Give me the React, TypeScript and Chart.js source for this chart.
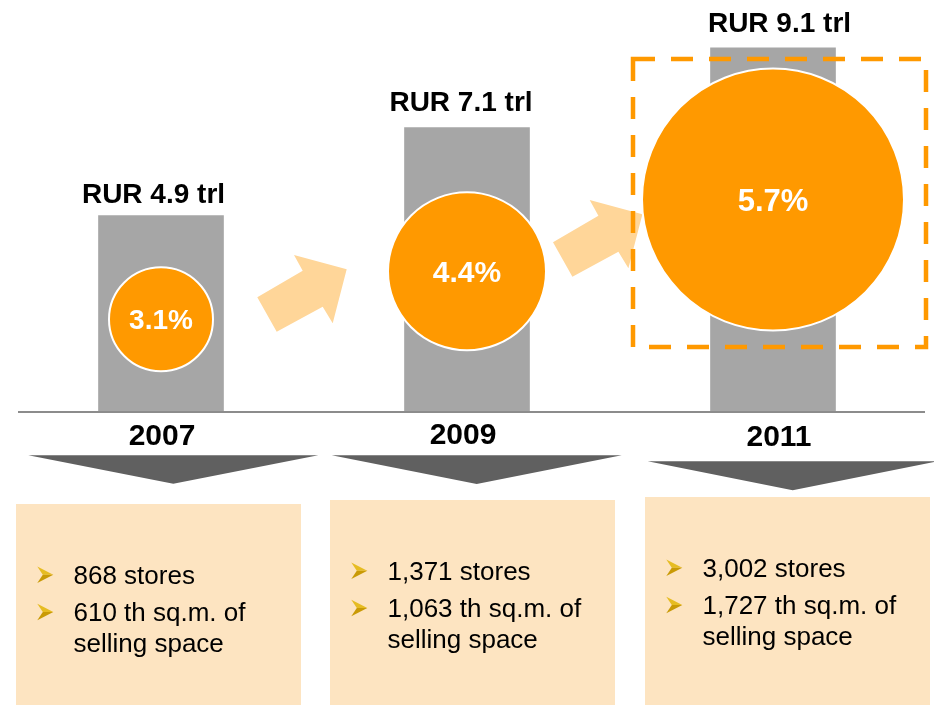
import { useEffect, useRef } from 'react';
import { Chart, registerables } from 'chart.js';

Chart.register(...registerables);

// ---- data ----
const years = ['2007', '2009', '2011'];
const marketSizeTrl = [4.9, 7.1, 9.1];
const sharePct = [3.1, 4.4, 5.7];
const bubbleRadius = [52, 79, 131];
const bubbleLevel = [2.3, 3.5, 5.3];
const storeCount = [868, 1371, 3002];
const sellingSpaceTh = [610, 1063, 1727];

const ORANGE = '#FF9900';
const FONT = '"Liberation Sans", Arial, Helvetica, sans-serif';

const decor = {
  rurDx: [-7.5, -6, 6.5],
  rurBaseline: [-12, -17, -15.5],
  pctFont: [28, 30, 31],
  yearDx: [1, -4, 6],
  yearBaseline: [34, 32.7, 35],
  triApexDx: [12.3, 9.7, 19.7],
  triTop: [44.3, 44.3, 50.3],
  triDepth: [28.4, 28.7, 29],
  triHalf: 145,
  boxLeftDx: [-145, -137, -128],
  boxTop: [93, 89, 86],
  boxW: 285,
  arrowAnchors: [
    [257.3, 297.3],
    [553, 242.3],
  ],
  arrowShape: [
    [0, 0],
    [19.4, 34.4],
    [65.4, 9.4],
    [75.4, 26],
    [89.4, -28],
    [36.7, -42.3],
    [45.4, -26.6],
  ],
  focus: { left: -140, right: 153, top: -140.5, bottom: 147.5 },
};

function fmt(n: number) {
  return n.toLocaleString('en-US');
}

function drawBullet(ctx: CanvasRenderingContext2D, x: number, yc: number) {
  const w = 16;
  const h = 16.6;
  ctx.beginPath();
  ctx.moveTo(x + w, yc);
  ctx.lineTo(x, yc - h / 2);
  ctx.lineTo(x + 5.5, yc);
  ctx.closePath();
  ctx.fillStyle = '#E6BC22';
  ctx.fill();
  ctx.beginPath();
  ctx.moveTo(x + w, yc);
  ctx.lineTo(x, yc + h / 2);
  ctx.lineTo(x + 5.5, yc);
  ctx.closePath();
  ctx.fillStyle = '#C99A06';
  ctx.fill();
}

const infographic = {
  id: 'infographic',
  beforeDatasetsDraw(chart: any) {
    const ctx: CanvasRenderingContext2D = chart.ctx;
    ctx.save();
    ctx.fillStyle = '#FFD699';
    decor.arrowAnchors.forEach(([ax, ay]) => {
      ctx.beginPath();
      decor.arrowShape.forEach(([dx, dy], k) => {
        if (k === 0) ctx.moveTo(ax + dx, ay + dy);
        else ctx.lineTo(ax + dx, ay + dy);
      });
      ctx.closePath();
      ctx.fill();
    });
    ctx.restore();
  },
  afterDatasetsDraw(chart: any) {
    const ctx: CanvasRenderingContext2D = chart.ctx;
    const area = chart.chartArea;
    const bubbles = chart.getDatasetMeta(0).data;
    const bars = chart.getDatasetMeta(1).data;
    const axisY = area.bottom;
    ctx.save();

    // baseline
    ctx.strokeStyle = '#8C8C8C';
    ctx.lineWidth = 2;
    ctx.beginPath();
    ctx.moveTo(18, axisY + 1);
    ctx.lineTo(925, axisY + 1);
    ctx.stroke();

    // value labels above bars
    ctx.fillStyle = '#000';
    ctx.textAlign = 'center';
    ctx.textBaseline = 'alphabetic';
    ctx.font = `bold 28px ${FONT}`;
    bars.forEach((b: any, i: number) => {
      ctx.fillText(`RUR ${marketSizeTrl[i].toFixed(1)} trl`, b.x + decor.rurDx[i], b.y + decor.rurBaseline[i]);
    });

    // percent labels inside bubbles
    ctx.fillStyle = '#FFFFFF';
    bubbles.forEach((p: any, i: number) => {
      const fs = decor.pctFont[i];
      ctx.font = `bold ${fs}px ${FONT}`;
      ctx.fillText(`${sharePct[i].toFixed(1)}%`, p.x, p.y + fs * 0.358);
    });

    // focus dashed box around last bubble
    const last = bubbles[bubbles.length - 1];
    ctx.strokeStyle = ORANGE;
    ctx.lineWidth = 4.5;
    ctx.setLineDash([22, 16]);
    ctx.strokeRect(
      last.x + decor.focus.left,
      last.y + decor.focus.top,
      decor.focus.right - decor.focus.left,
      decor.focus.bottom - decor.focus.top
    );
    ctx.setLineDash([]);

    // year labels
    ctx.fillStyle = '#000';
    ctx.font = `bold 30px ${FONT}`;
    bars.forEach((b: any, i: number) => {
      ctx.fillText(years[i], b.x + decor.yearDx[i], axisY + decor.yearBaseline[i]);
    });

    // triangles
    ctx.fillStyle = '#606060';
    bars.forEach((b: any, i: number) => {
      const ax = b.x + decor.triApexDx[i];
      const top = axisY + decor.triTop[i];
      ctx.beginPath();
      ctx.moveTo(ax - decor.triHalf, top);
      ctx.lineTo(ax + decor.triHalf, top);
      ctx.lineTo(ax, top + decor.triDepth[i]);
      ctx.closePath();
      ctx.fill();
    });

    // info boxes
    bars.forEach((b: any, i: number) => {
      const left = b.x + decor.boxLeftDx[i];
      const top = axisY + decor.boxTop[i];
      ctx.fillStyle = '#FDE4C1';
      ctx.fillRect(left, top, decor.boxW, chart.height - top);

      const b1 = top + 80;
      const b2 = top + 117.3;
      const b3 = top + 148;
      drawBullet(ctx, left + 21.3, b1 - 9.3);
      drawBullet(ctx, left + 21.3, b2 - 9.3);
      ctx.fillStyle = '#000';
      ctx.textAlign = 'left';
      ctx.font = `26px ${FONT}`;
      const tx = left + 57.5;
      ctx.fillText(`${fmt(storeCount[i])} stores`, tx, b1);
      ctx.fillText(`${fmt(sellingSpaceTh[i])} th sq.m. of`, tx, b2);
      ctx.fillText('selling space', tx, b3);
      ctx.textAlign = 'center';
    });

    ctx.restore();
  },
};

export default function App() {
  const ref = useRef<HTMLCanvasElement>(null);
  useEffect(() => {
    const canvas = ref.current!;
    const chart = new Chart(canvas, {
      type: 'bar',
      data: {
        labels: years,
        datasets: [
          {
            type: 'bubble',
            label: 'Share',
            data: years.map((y, i) => ({ x: y as any, y: bubbleLevel[i], r: bubbleRadius[i] })),
            backgroundColor: ORANGE,
            borderColor: '#FFFFFF',
            borderWidth: 2,
            clip: false,
            order: 0,
          } as any,
          {
            type: 'bar',
            label: 'Market size',
            data: marketSizeTrl,
            backgroundColor: '#A6A6A6',
            borderWidth: 0,
            barThickness: 125,
            order: 1,
          } as any,
        ],
      },
      options: {
        responsive: false,
        animation: false,
        devicePixelRatio: 1,
        events: [],
        layout: { autoPadding: false, padding: { left: 8, right: 8, top: 0, bottom: 294 } },
        scales: {
          x: { type: 'category', display: false, offset: true },
          y: { display: false, min: 0, max: 10.3 },
        },
        plugins: {
          legend: { display: false },
          tooltip: { enabled: false },
        },
      } as any,
      plugins: [infographic],
    });
    return () => chart.destroy();
  }, []);
  return (
    <div style={{ position: 'absolute', left: 0, top: 0, width: 934, height: 705, background: '#fff' }}>
      <canvas ref={ref} width={934} height={705} style={{ display: 'block' }} />
    </div>
  );
}
